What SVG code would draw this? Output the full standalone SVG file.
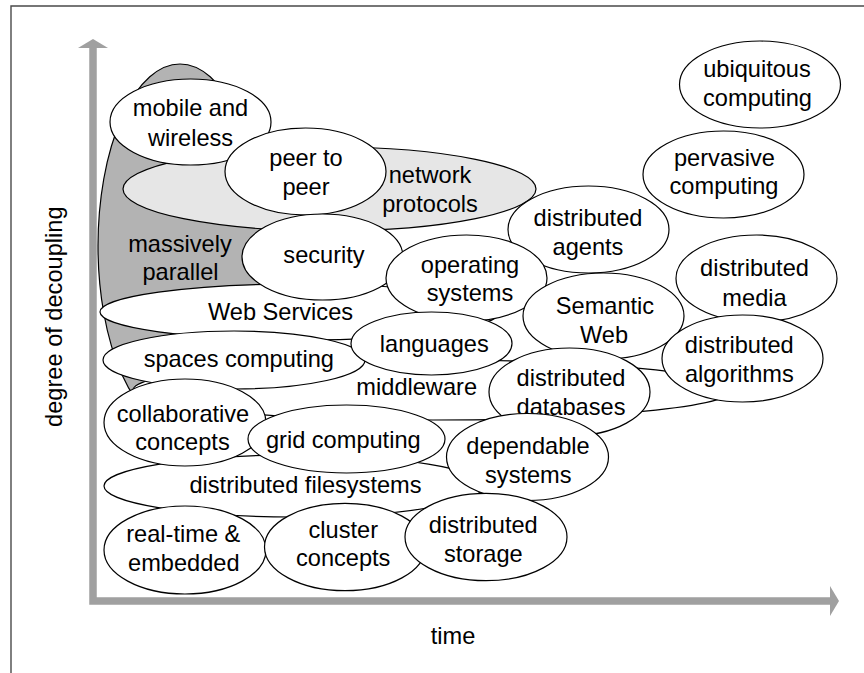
<svg xmlns="http://www.w3.org/2000/svg" width="864" height="673" viewBox="0 0 864 673">
  <style>
    .n { fill: #ffffff; stroke: #000000; stroke-width: 1.2; }
    .dark { fill: #b3b3b3; }
    .light { fill: #e6e6e6; }
    .t { font-family: "Liberation Sans", Arial, Helvetica, sans-serif; font-size: 23.6px; fill: #000000; text-anchor: middle; }
    .axis { fill: none; stroke: #a0a0a0; stroke-width: 7.5; stroke-linejoin: miter; }
  </style>
  <defs>
    <marker id="head" markerUnits="userSpaceOnUse" markerWidth="10" markerHeight="32" refX="0" refY="16" orient="auto-start-reverse" viewBox="0 0 10 32">
      <path d="M0,1 L9,16 L0,31 Z" fill="#a0a0a0"/>
    </marker>
  </defs>

  <rect width="864" height="673" fill="#ffffff"/>
  <!-- frame -->
  <path d="M11,673 V6 H864" fill="none" stroke="#4a4a4a" stroke-width="1.4"/>

  <!-- axes -->
  <g id="axes">
    <path class="axis" d="M93,48 V601 H830" marker-start="url(#head)" marker-end="url(#head)"/>
    <text class="t" transform="translate(62,316.7) rotate(-90)">degree of decoupling</text>
    <text class="t" x="453" y="643.5">time</text>
  </g>

  <!-- topic areas, back to front -->
  <g id="massively-parallel">
    <ellipse class="n dark" cx="180" cy="246" rx="82" ry="182"/>
    <text class="t" x="180" y="252">massively</text>
    <text class="t" x="180.5" y="280">parallel</text>
  </g>
  <g id="network-protocols">
    <ellipse class="n light" cx="329.5" cy="189" rx="206.5" ry="42"/>
    <text class="t" x="430" y="183">network</text>
    <text class="t" x="430" y="212">protocols</text>
  </g>
  <g id="mobile-wireless">
    <ellipse class="n" cx="190.5" cy="122" rx="80.5" ry="43"/>
    <text class="t" x="190.5" y="116">mobile and</text>
    <text class="t" x="190.5" y="146">wireless</text>
  </g>
  <g id="peer-to-peer">
    <ellipse class="n" cx="305.5" cy="171.5" rx="80.5" ry="43.5"/>
    <text class="t" x="306" y="166">peer to</text>
    <text class="t" x="306" y="195">peer</text>
  </g>
  <g id="web-services">
    <ellipse class="n" cx="300" cy="312" rx="200" ry="28"/>
    <text class="t" x="280.5" y="320">Web Services</text>
  </g>
  <g id="security">
    <ellipse class="n" cx="322.5" cy="257" rx="80.5" ry="43"/>
    <text class="t" x="324" y="263">security</text>
  </g>
  <g id="distributed-agents">
    <ellipse class="n" cx="588.5" cy="229.5" rx="80.5" ry="43.5"/>
    <text class="t" x="588" y="226">distributed</text>
    <text class="t" x="588" y="255">agents</text>
  </g>
  <g id="operating-systems">
    <ellipse class="n" cx="466.5" cy="278" rx="80.5" ry="43"/>
    <text class="t" x="470" y="273">operating</text>
    <text class="t" x="470" y="301">systems</text>
  </g>
  <g id="semantic-web">
    <ellipse class="n" cx="603.5" cy="316" rx="80.5" ry="43"/>
    <text class="t" x="605" y="314">Semantic</text>
    <text class="t" x="604" y="343">Web</text>
  </g>
  <g id="ubiquitous-computing">
    <ellipse class="n" cx="760" cy="84.5" rx="80.5" ry="43.5"/>
    <text class="t" x="757" y="77">ubiquitous</text>
    <text class="t" x="757.5" y="106">computing</text>
  </g>
  <g id="pervasive-computing">
    <ellipse class="n" cx="723.5" cy="174.5" rx="80.5" ry="43.5"/>
    <text class="t" x="724.5" y="165.5">pervasive</text>
    <text class="t" x="724" y="194">computing</text>
  </g>
  <g id="distributed-media">
    <ellipse class="n" cx="756.5" cy="278.5" rx="80.5" ry="43.5"/>
    <text class="t" x="754.5" y="276">distributed</text>
    <text class="t" x="754.5" y="305.5">media</text>
  </g>
  <g id="middleware">
    <ellipse class="n" cx="433" cy="390" rx="300" ry="30"/>
    <text class="t" x="416.7" y="395">middleware</text>
  </g>
  <g id="distributed-algorithms">
    <ellipse class="n" cx="742.5" cy="358.5" rx="80.5" ry="43.5"/>
    <text class="t" x="739.3" y="352.7">distributed</text>
    <text class="t" x="739.3" y="381.7">algorithms</text>
  </g>
  <g id="spaces-computing">
    <ellipse class="n" cx="234" cy="360" rx="131" ry="29"/>
    <text class="t" x="238.8" y="367.3">spaces computing</text>
  </g>
  <g id="languages">
    <ellipse class="n" cx="431.5" cy="343.5" rx="80.5" ry="31.5"/>
    <text class="t" x="434.3" y="351.7">languages</text>
  </g>
  <g id="distributed-databases">
    <ellipse class="n" cx="569.5" cy="392" rx="80.5" ry="44"/>
    <text class="t" x="571" y="386">distributed</text>
    <text class="t" x="571" y="415.3">databases</text>
  </g>
  <g id="distributed-filesystems">
    <ellipse class="n" cx="294" cy="486" rx="190" ry="31"/>
    <text class="t" x="305.5" y="493.3">distributed filesystems</text>
  </g>
  <g id="collaborative-concepts">
    <ellipse class="n" cx="185" cy="422.5" rx="81" ry="43.5"/>
    <text class="t" x="183" y="421.7">collaborative</text>
    <text class="t" x="182.5" y="450">concepts</text>
  </g>
  <g id="grid-computing">
    <ellipse class="n" cx="346.5" cy="439" rx="98.5" ry="34"/>
    <text class="t" x="343.3" y="448.3">grid computing</text>
  </g>
  <g id="dependable-systems">
    <ellipse class="n" cx="527.5" cy="457" rx="81" ry="43.5"/>
    <text class="t" x="528" y="454">dependable</text>
    <text class="t" x="528.3" y="482.7">systems</text>
  </g>
  <g id="real-time-embedded">
    <ellipse class="n" cx="185" cy="550" rx="81" ry="44"/>
    <text class="t" x="183.3" y="541.7">real-time &amp;</text>
    <text class="t" x="183.8" y="570.7">embedded</text>
  </g>
  <g id="cluster-concepts">
    <ellipse class="n" cx="345" cy="547" rx="80.5" ry="43.7"/>
    <text class="t" x="343.3" y="538.3">cluster</text>
    <text class="t" x="343.2" y="566">concepts</text>
  </g>
  <g id="distributed-storage">
    <ellipse class="n" cx="486" cy="537" rx="81" ry="43.7"/>
    <text class="t" x="483.3" y="533.3">distributed</text>
    <text class="t" x="483.3" y="561.7">storage</text>
  </g>
</svg>
